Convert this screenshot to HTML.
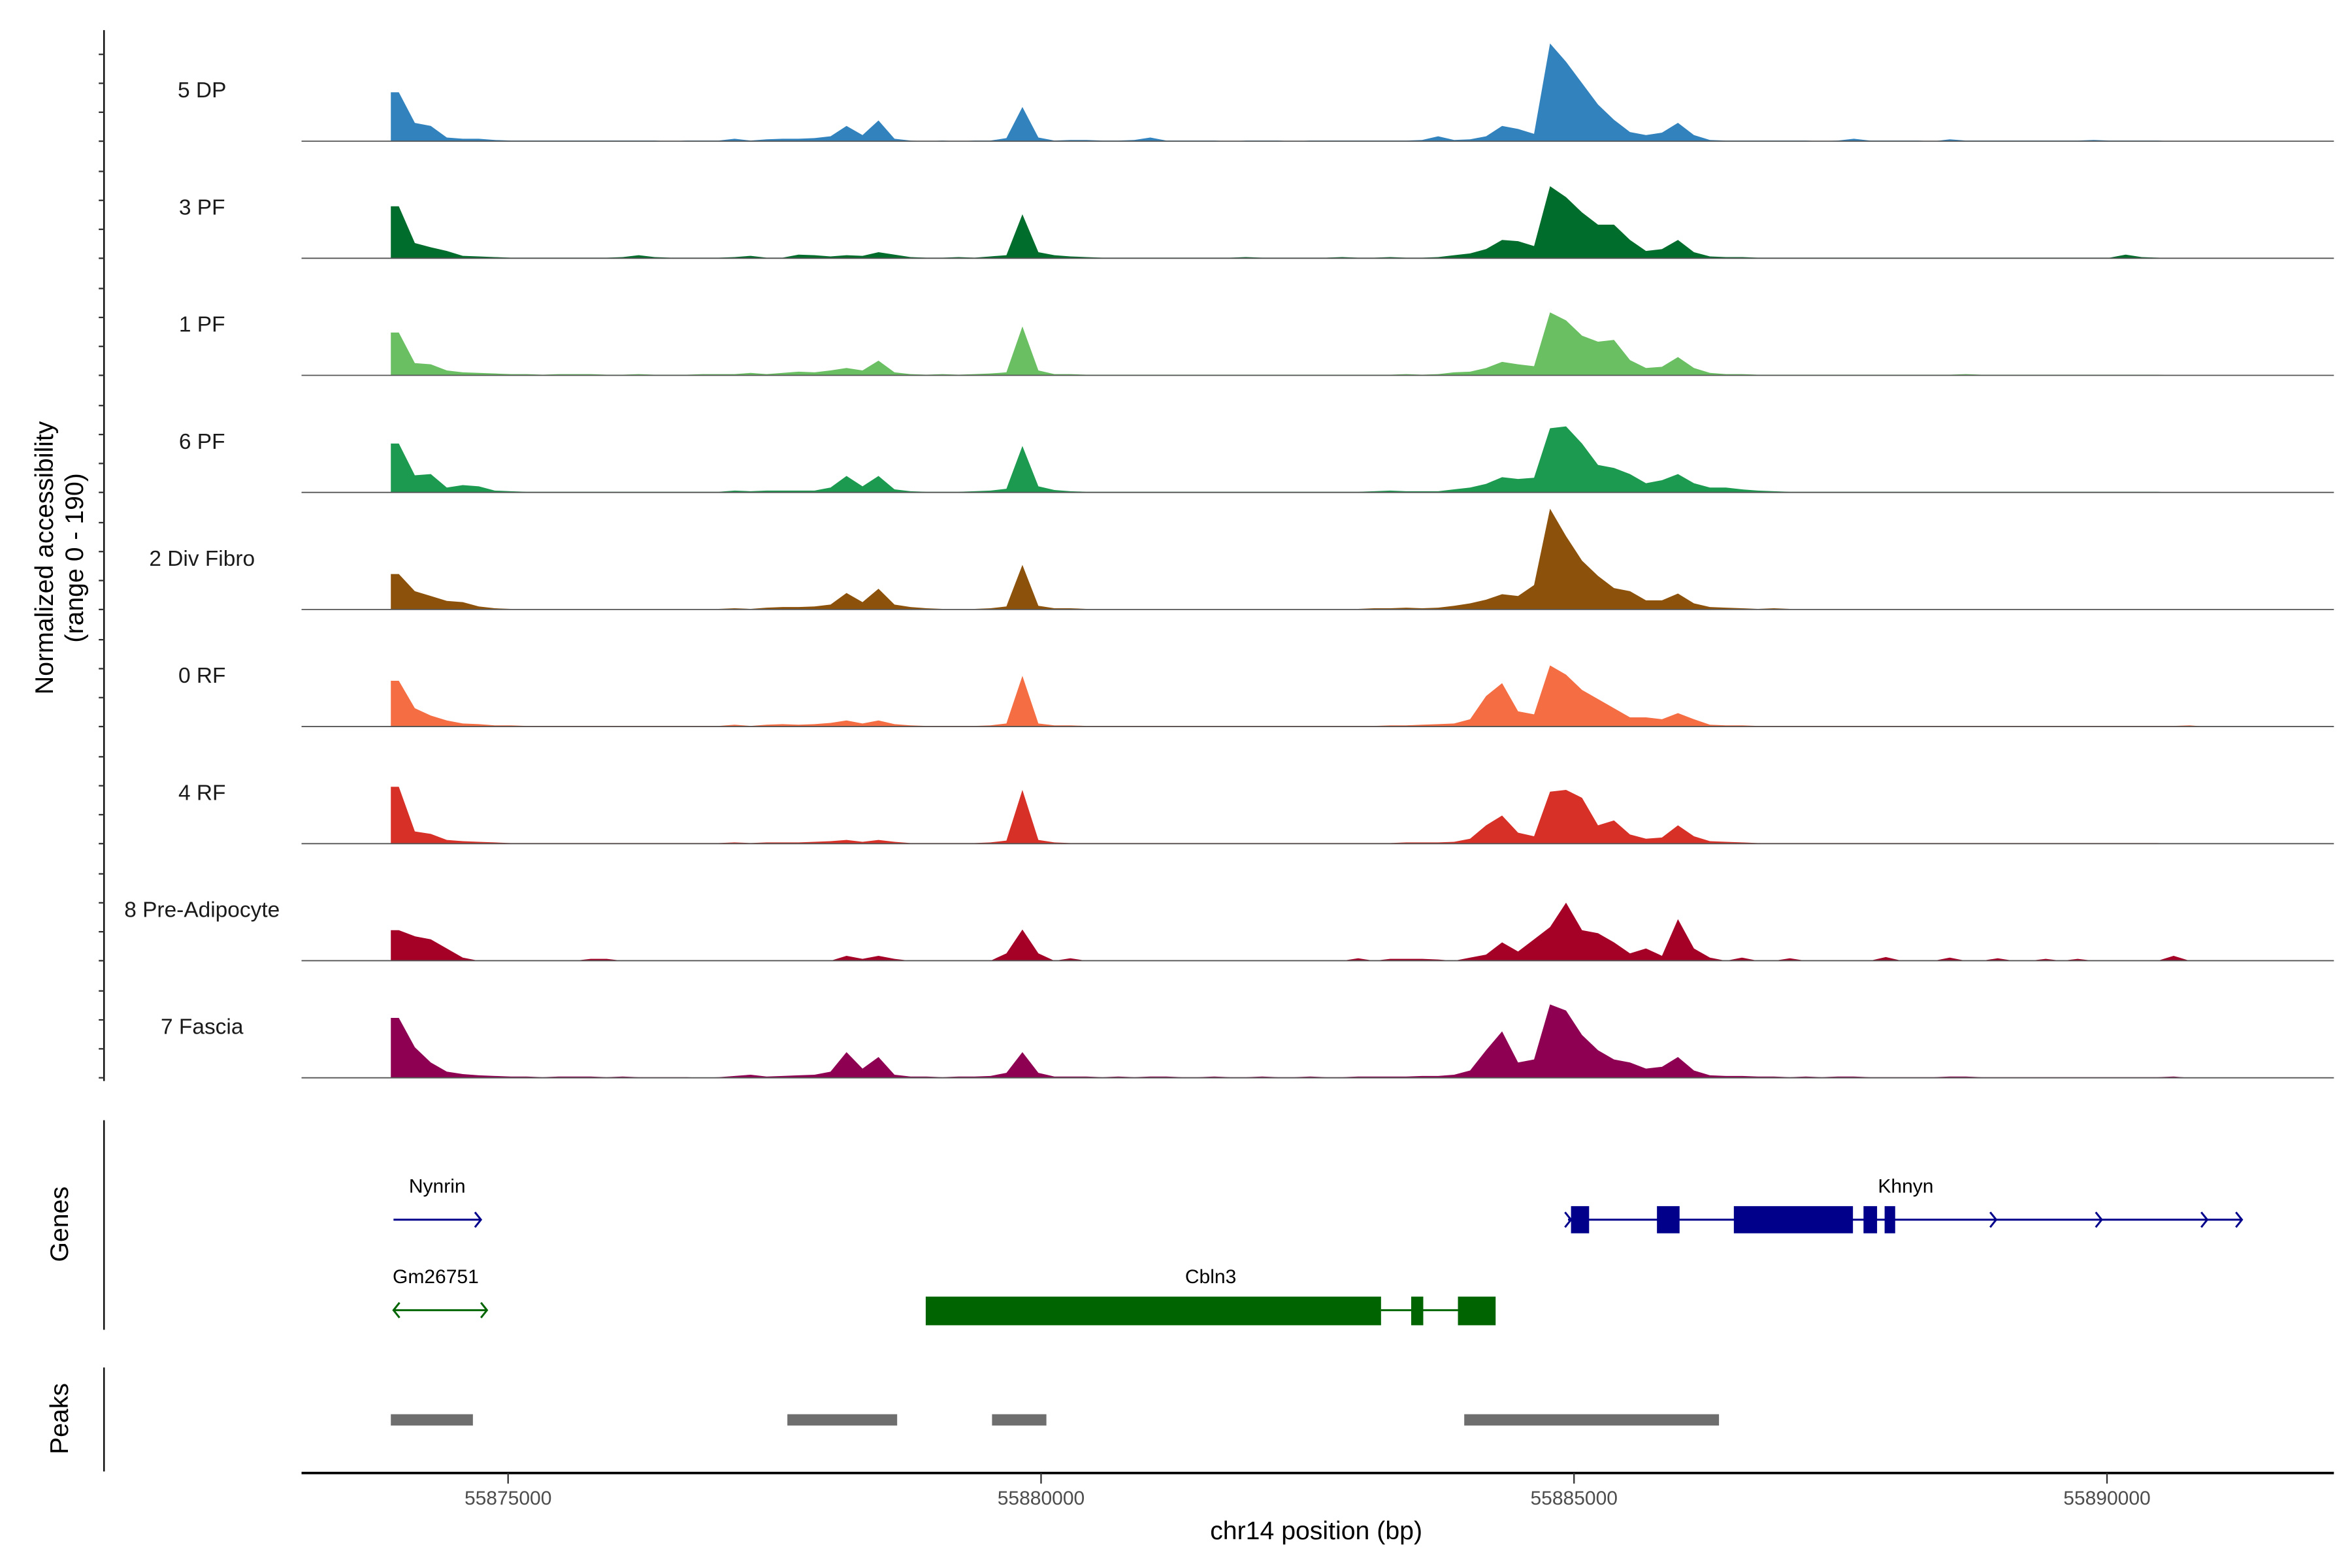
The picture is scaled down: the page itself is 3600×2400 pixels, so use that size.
<!DOCTYPE html>
<html><head><meta charset="utf-8"><style>
html,body{margin:0;padding:0;background:#fff;}
svg{display:block;font-family:"Liberation Sans",sans-serif;}
</style></head><body>
<svg id="chart" width="3600" height="2400" viewBox="0 0 1560 1040" xmlns="http://www.w3.org/2000/svg">
<rect x="0" y="0" width="1560" height="1040" fill="#fff"/>
<g id="tracks"></g>
<line x1="69" y1="20" x2="69" y2="717" stroke="#000" stroke-width="1"/>
<g id="yticks"></g>
<text transform="translate(35,370) rotate(-90)" text-anchor="middle" font-size="17">Normalized accessibility</text>
<text transform="translate(55,370) rotate(-90)" text-anchor="middle" font-size="17">(range 0 - 190)</text>

<line x1="69" y1="743" x2="69" y2="882" stroke="#000" stroke-width="1"/>
<text transform="translate(45,812) rotate(-90)" text-anchor="middle" font-size="17">Genes</text>
<line x1="69" y1="907" x2="69" y2="976" stroke="#000" stroke-width="1"/>
<text transform="translate(45,941) rotate(-90)" text-anchor="middle" font-size="17">Peaks</text>

<g id="genes">
  <g stroke="#00008b" fill="none" stroke-width="1.3">
    <line x1="261" y1="809" x2="319" y2="809"/>
    <polyline points="315,804 319,809 315,814"/>
  </g>
  <text x="290" y="791" text-anchor="middle" font-size="13">Nynrin</text>
  <g fill="#00008b" stroke="#00008b">
    <line x1="1040" y1="809" x2="1487" y2="809" stroke-width="1.3"/>
    <rect x="1042" y="800" width="12" height="18" stroke="none"/>
    <rect x="1099" y="800" width="15" height="18" stroke="none"/>
    <rect x="1150" y="800" width="79" height="18" stroke="none"/>
    <rect x="1236" y="800" width="9" height="18" stroke="none"/>
    <rect x="1250" y="800" width="7" height="18" stroke="none"/>
    <polyline points="1038,804 1042,809 1038,814" fill="none" stroke-width="1.3"/>
    <polyline points="1320,804 1324,809 1320,814" fill="none" stroke-width="1.3"/>
    <polyline points="1390,804 1394,809 1390,814" fill="none" stroke-width="1.3"/>
    <polyline points="1460,804 1464,809 1460,814" fill="none" stroke-width="1.3"/>
    <polyline points="1483,804 1487,809 1483,814" fill="none" stroke-width="1.3"/>
  </g>
  <text x="1264" y="791" text-anchor="middle" font-size="13">Khnyn</text>
  <g stroke="#006400" fill="none" stroke-width="1.3">
    <line x1="261" y1="869" x2="323" y2="869"/>
    <polyline points="265,864 261,869 265,874"/>
    <polyline points="319,864 323,869 319,874"/>
  </g>
  <text x="289" y="851" text-anchor="middle" font-size="13">Gm26751</text>
  <g fill="#006400" stroke="#006400">
    <line x1="916" y1="869" x2="967" y2="869" stroke-width="1.3"/>
    <rect x="614" y="860" width="302" height="19" stroke="none"/>
    <rect x="936" y="860" width="8" height="19" stroke="none"/>
    <rect x="967" y="860" width="25" height="19" stroke="none"/>
  </g>
  <text x="803" y="851" text-anchor="middle" font-size="13">Cbln3</text>
</g>

<g id="peaks"></g>

<line x1="200" y1="977" x2="1548" y2="977" stroke="#000" stroke-width="1.6"/>
<g id="xticks"></g>
<text x="873" y="1021" text-anchor="middle" font-size="17">chr14 position (bp)</text>
</svg>
<script>
const trackNames = ["5 DP","3 PF","1 PF","6 PF","2 Div Fibro","0 RF","4 RF","8 Pre-Adipocyte","7 Fascia"];
const trackColors = ["#3182bd","#006d2c","#6abf63","#1c9a50","#8c510a","#f46d43","#d73027","#a50026","#8e0152"];
const binStart = 55873900;
const binSize = 150;
const yMax = 190;
const xTickValues = [55875000,55880000,55885000,55890000];
const xTickLabels = ["55875000","55880000","55885000","55890000"];
const peakStarts = [55873900,55877620,55879540,55883970];
const peakEnds = [55874670,55878650,55880050,55886360];

const dp5 = [80,30,25,6,4,4,2,1,1,1, 1,1,1,1,1,1,1,0,1,1, 1,4,1,3,4,4,5,8,25,10, 34,4,1,0,1,0,1,1,5,56, 6,1,2,2,1,1,2,6,1,1, 1,1,0,1,1,1,0,1,1,1, 1,1,1,1,2,8,2,3,8,25, 20,12,160,130,95,60,35,15,10,14, 30,10,2,1,1,1,1,1,1,0, 1,4,1,1,1,1,0,3,1,1, 1,1,1,1,1,1,2,1,1,1, 1,0,0,0,0,0];
const pf3 = [85,25,18,12,4,3,2,1,1,1, 1,1,1,1,2,5,2,1,1,1, 1,2,4,1,1,6,5,3,5,4, 10,6,2,1,1,2,1,3,5,72, 10,5,3,2,1,1,1,1,1,1, 1,1,1,2,1,1,1,1,1,2, 1,1,2,1,1,2,5,8,15,30, 28,20,118,100,75,55,55,30,12,15, 30,10,3,2,2,1,1,1,1,1, 1,1,1,1,1,1,1,1,1,1, 1,1,1,1,1,1,1,1,6,2, 1,0,0,0,0,0];
const pf1 = [70,20,18,8,5,4,3,2,2,1, 2,2,2,1,1,2,1,1,1,2, 2,2,4,2,4,6,5,8,12,8, 24,5,2,1,2,1,2,3,5,80, 8,2,2,1,1,1,1,1,1,1, 1,1,1,1,1,1,1,1,1,1, 1,1,1,2,1,2,5,6,12,22, 18,15,103,90,65,55,58,25,12,14, 30,12,4,2,2,1,1,1,1,1, 1,1,1,1,1,1,1,1,2,1, 1,1,1,1,1,1,1,1,1,1, 1,0,0,0,0,0];
const pf6 = [80,28,30,8,12,10,3,2,1,1, 1,1,1,1,1,1,1,1,1,1, 1,3,2,3,3,3,3,8,27,10, 27,5,2,1,1,1,2,3,6,76, 10,4,2,1,1,1,1,1,1,1, 1,1,1,1,1,1,1,1,1,1, 1,2,3,2,2,2,5,8,14,25, 22,24,105,108,80,45,40,30,15,20, 30,15,8,8,5,3,2,1,1,1, 1,1,1,1,1,1,1,1,1,1, 1,1,1,1,1,1,1,1,1,1, 1,0,0,0,0,0];
const fibro2 = [58,30,22,14,12,5,2,1,1,1, 1,1,1,1,1,1,1,1,1,1, 1,2,1,3,4,4,5,8,27,12, 34,8,4,2,1,1,1,2,5,73, 6,2,2,1,1,1,1,1,1,1, 1,1,1,1,1,1,1,1,1,1, 1,2,2,3,2,3,6,10,16,25, 22,40,165,120,80,55,35,30,15,15, 26,10,4,3,2,1,2,1,1,1, 1,1,1,1,1,1,1,1,1,1, 1,1,1,1,1,1,1,1,1,1, 1,0,0,0,0,0];
const rf0 = [75,30,18,10,5,4,2,2,1,1, 1,1,1,1,1,1,1,1,1,1, 1,3,1,3,4,3,4,6,10,5, 10,4,2,1,1,1,1,2,5,83, 5,2,2,1,1,1,1,1,1,1, 1,1,1,1,1,1,1,1,1,1, 1,1,2,2,3,4,5,12,50,71, 25,20,100,85,60,45,30,15,15,12, 22,12,3,2,2,1,1,1,1,1, 1,1,1,1,1,1,1,1,1,1, 1,1,1,1,1,1,1,1,1,1, 1,1,2,0,0,0];
const rf4 = [93,20,16,6,4,3,2,1,1,1, 1,1,1,1,1,1,1,1,1,1, 1,2,1,2,2,2,3,4,6,3, 6,3,1,1,1,1,1,2,5,88, 6,2,1,1,1,1,1,1,1,1, 1,1,1,1,1,1,1,1,1,1, 1,1,1,2,2,2,3,8,30,46, 18,12,85,88,75,30,38,15,8,10, 30,12,4,3,2,1,1,1,1,1, 1,1,1,1,1,1,1,1,1,1, 1,1,1,1,1,1,1,1,1,1, 1,0,0,0,0,0];
const preadipo8 = [50,40,35,20,5,0,0,0,0,0, 0,0,3,3,0,0,0,0,0,0, 0,0,0,0,0,0,0,0,8,3, 8,3,0,0,0,0,0,0,12,51, 12,0,4,0,0,0,0,0,0,0, 0,0,0,0,0,0,0,0,0,0, 4,0,3,3,3,2,0,5,10,30, 15,35,55,95,50,45,30,12,20,8, 68,20,5,0,5,0,0,4,0,0, 0,0,0,6,0,0,0,5,0,0, 4,0,0,3,0,3,0,0,0,0, 0,8,0,0,0,0];
const fascia7 = [98,50,25,10,6,4,3,2,2,1, 2,2,2,1,2,1,1,1,1,0, 1,3,5,2,3,4,5,10,42,15, 34,5,2,2,1,2,2,3,8,42, 8,2,2,2,1,2,1,2,2,1, 1,2,1,1,2,1,1,2,1,1, 2,2,2,2,3,3,5,12,45,76, 25,30,120,110,70,45,30,25,15,18, 34,12,4,3,3,2,2,1,2,1, 2,2,1,1,1,1,1,2,2,1, 1,1,1,1,1,1,1,1,1,1, 1,2,0,0,0,0];
const trackValues = [dp5,pf3,pf1,pf6,fibro2,rf0,rf4,preadipo8,fascia7];

const NS = "http://www.w3.org/2000/svg";
function xScale(bp){ return 337 + (bp - 55875000) * (1044 - 337) / 10000; }
const trackTop = 16, trackStep = 77.65, trackH = 77;
function baseY(t){ return trackTop + trackStep*(t+1); }
function yScale(v, t){ return baseY(t) - v / yMax * trackH; }
function mk(tag, attrs){ const e = document.createElementNS(NS, tag); for (const k in attrs) e.setAttribute(k, attrs[k]); return e; }

const gTracks = document.getElementById("tracks");
const gY = document.getElementById("yticks");
trackValues.forEach((vals, t) => {
  const b = baseY(t);
  let d = "M" + xScale(binStart).toFixed(2) + "," + b.toFixed(2);
  d += " L" + xScale(binStart).toFixed(2) + "," + yScale(vals[0], t).toFixed(2);
  vals.forEach((v, i) => {
    const x = xScale(binStart + binSize*(i+0.5));
    d += " L" + x.toFixed(2) + "," + yScale(v, t).toFixed(2);
  });
  d += " L" + xScale(binStart + binSize*vals.length).toFixed(2) + "," + b.toFixed(2) + " Z";
  const area = mk("path", {d: d, fill: trackColors[t], stroke: "none"});
  
  
  gTracks.appendChild(area);
  const base = mk("line", {x1: 200, x2: 1548, y1: b, y2: b, stroke: "#555", "stroke-width": 0.8});
  
  
  gTracks.appendChild(base);
  const lab = mk("text", {x: 134, y: b - 29, "text-anchor": "middle", "font-size": 14.5, fill: "#1a1a1a"});
  lab.textContent = trackNames[t];
  
  
  gTracks.appendChild(lab);
  for (let k = 0; k < 4; k++) {
    const ty = b - k*19.2;
    const tk = mk("line", {x1: 65.5, x2: 69, y1: ty, y2: ty, stroke: "#333", "stroke-width": 1});
    
    
    gY.appendChild(tk);
  }
});

const gP = document.getElementById("peaks");
peakStarts.forEach((s, i) => {
  const r = mk("rect", {x: xScale(s), y: 938, width: xScale(peakEnds[i]) - xScale(s), height: 7.5, fill: "#6e6e6e"});
  
  
  gP.appendChild(r);
});

const gX = document.getElementById("xticks");
xTickValues.forEach((v, i) => {
  const x = xScale(v);
  const tk = mk("line", {x1: x, x2: x, y1: 977, y2: 984, stroke: "#333", "stroke-width": 1});
  
  
  gX.appendChild(tk);
  const tl = mk("text", {x: x, y: 998, "text-anchor": "middle", "font-size": 13, fill: "#4d4d4d"});
  tl.textContent = xTickLabels[i];
  
  
  gX.appendChild(tl);
});
</script>
</body></html>
